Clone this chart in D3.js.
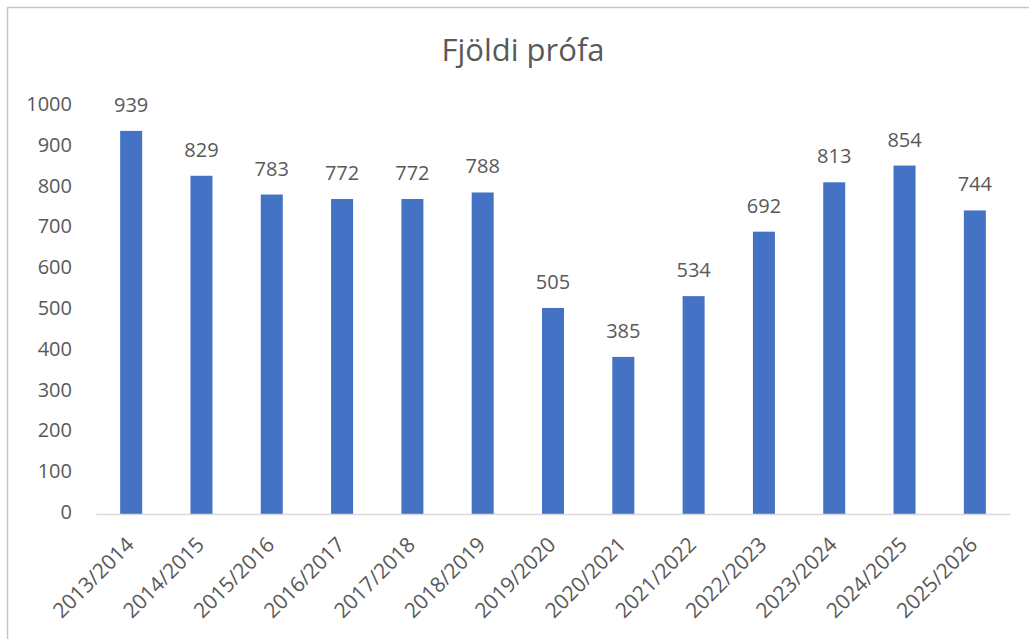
<!DOCTYPE html>
<html>
<head>
<meta charset="utf-8">
<script src="https://cdn.jsdelivr.net/npm/d3@7"></script>
<style>
  html, body { margin: 0; padding: 0; background: #fff; }
  svg { display: block; }
  text { font-family: "Open Sans", "Noto Sans", sans-serif; fill: #595959; }
</style>
</head>
<body>
<svg id="chart" width="1029" height="639"></svg>
<script>
const title = "Fjöldi prófa";
const categories = ["2013/2014","2014/2015","2015/2016","2016/2017","2017/2018","2018/2019","2019/2020","2020/2021","2021/2022","2022/2023","2023/2024","2024/2025","2025/2026"];
const values = [939, 829, 783, 772, 772, 788, 505, 385, 534, 692, 813, 854, 744];
const yTicks = [0, 100, 200, 300, 400, 500, 600, 700, 800, 900, 1000];

const svg = d3.select("#chart");

// chart border (cropped at right and bottom)
svg.append("rect")
  .attr("x", 7.5).attr("y", 7.5)
  .attr("width", 1100).attr("height", 700)
  .attr("fill", "#fff")
  .attr("stroke", "#c6c6c6")
  .attr("stroke-width", 1.5);

const x = d3.scaleBand()
  .domain(categories)
  .range([96, 1010])
  .paddingInner(0.687)
  .paddingOuter(0.3435);

const y = d3.scaleLinear()
  .domain([0, 1000])
  .range([514, 106]);

// title
svg.append("text")
  .attr("x", 523).attr("y", 61)
  .attr("text-anchor", "middle")
  .style("font-size", "31px")
  .text(title);

// y axis labels
const yAxis = d3.axisLeft(y).tickValues(yTicks).tickSize(0).tickPadding(0).tickFormat(d3.format("d"));
const gy = svg.append("g").attr("transform", "translate(72,-2)").call(yAxis);
gy.select(".domain").remove();
gy.selectAll("text")
  .style("font-size", "20px")
  .style("font-family", "'Open Sans', 'Noto Sans', sans-serif")
  .attr("fill", "#595959");

// bars
svg.append("g").selectAll("rect")
  .data(values)
  .join("rect")
  .attr("x", (d, i) => x(categories[i]))
  .attr("width", x.bandwidth())
  .attr("y", d => y(d))
  .attr("height", d => y(0) - y(d))
  .attr("fill", "#4472C4");

// x axis
const xAxis = d3.axisBottom(x).tickSize(0).tickPadding(0);
const gx = svg.append("g").attr("transform", "translate(0,514)").call(xAxis);
gx.select(".domain").attr("stroke", "#d9d9d9").attr("stroke-width", 1.5);
gx.selectAll("text")
  .style("font-size", "21px")
  .style("font-family", "'Open Sans', 'Noto Sans', sans-serif")
  .attr("fill", "#595959")
  .attr("text-anchor", "end")
  .attr("dy", null)
  .attr("y", 0)
  .attr("transform", "translate(4,32) rotate(-45)");

// value labels
svg.append("g").selectAll("text")
  .data(values)
  .join("text")
  .attr("x", (d, i) => x(categories[i]) + x.bandwidth() / 2)
  .attr("y", d => y(d) - 19)
  .attr("text-anchor", "middle")
  .style("font-size", "20px")
  .text(d => d);
</script>
</body>
</html>
